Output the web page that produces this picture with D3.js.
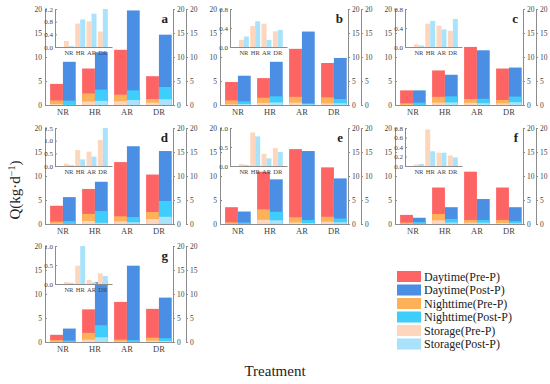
<!DOCTYPE html>
<html>
<head>
<meta charset="utf-8">
<script src="https://cdn.jsdelivr.net/npm/d3@7"></script>
<style>
body { margin: 0; background: #fff; }
svg text { font-family: "Liberation Serif", "DejaVu Serif", serif; }
</style>
</head>
<body>
<div id="chart"></div>
<script>
// values, one entry per panel (a..g), order NR, HR, AR, DR
var panels = ["a", "b", "c", "d", "e", "f", "g"];
var treatments = ["NR", "HR", "AR", "DR"];

var dayPre = [
  [4.4, 7.6, 11.5, 6.0],
  [4.8, 5.6, 11.7, 8.75],
  [3.05, 7.2, 12.1, 7.6],
  [3.8, 7.3, 12.9, 10.3],
  [3.5, 10.9, 15.6, 11.8],
  [1.9, 7.6, 10.9, 7.6],
  [1.5, 6.8, 8.35, 6.9]
];
var dayPost = [
  [9.0, 11.0, 19.7, 14.65],
  [6.1, 9.0, 15.3, 9.8],
  [3.05, 6.3, 11.4, 7.8],
  [5.6, 8.8, 16.2, 15.2],
  [2.6, 9.3, 15.2, 9.5],
  [1.3, 3.5, 5.2, 3.5],
  [2.8, 12.5, 15.9, 9.25]
];
var nightPre = [
  [0.95, 2.4, 2.15, 1.25],
  [0.95, 1.5, 1.7, 1.6],
  [0.35, 1.7, 1.25, 1.05],
  [0.5, 2.1, 1.6, 2.5],
  [0.35, 3.05, 1.4, 1.5],
  [0.3, 2.1, 0.85, 0.85],
  [0.4, 1.9, 0.5, 0.9]
];
var nightPost = [
  [0.9, 3.2, 3.05, 3.75],
  [0.76, 1.8, 0.35, 1.25],
  [0.5, 1.8, 1.3, 1.75],
  [0.6, 2.7, 1.45, 4.8],
  [0.3, 2.55, 0.85, 1.15],
  [0.4, 1.05, 0.85, 0.6],
  [0.3, 3.5, 0.4, 0.8]
];
var storagePre = [
  [0.19, 0.74, 0.81, 0.49],
  [0.15, 0.44, 0.49, 0.33],
  [0.055, 0.49, 0.45, 0.34],
  [0.09, 0.63, 0.57, 1.03],
  [0.05, 0.88, 0.32, 0.47],
  [0.03, 0.77, 0.28, 0.22],
  [0.05, 0.48, 0.11, 0.28]
];
var storagePost = [
  [0.03, 0.87, 1.05, 1.2],
  [0.22, 0.54, 0.15, 0.36],
  [0.03, 0.55, 0.37, 0.59],
  [0.03, 0.26, 0.37, 1.5],
  [0.03, 0.78, 0.2, 0.37],
  [0.04, 0.31, 0.28, 0.18],
  [0.03, 1.0, 0.04, 0.21]
];
var mainTicks = [0, 5, 10, 15, 20];
var insetMax = [1.2, 0.8, 0.8, 1.5, 1.0, 0.8, 1.0];
var insetStep = [0.4, 0.4, 0.4, 0.5, 0.5, 0.2, 0.5];

var legendLabels = ["Daytime(Pre-P)", "Daytime(Post-P)", "Nighttime(Pre-P)",
  "Nighttime(Post-P)", "Storage(Pre-P)", "Storage(Post-P)"];
var colors = ["#fd6464", "#4a8fe4", "#fdb25a", "#3fcdfb", "#fed6bd", "#a8e2fb"];

var width = 550, height = 384;
var colX = [45, 220, 395], rowY = [9, 128, 246];
var pw = 128, ph = 96;
var axisColor = "#8c8c8c";
var serif = "Liberation Serif, DejaVu Serif, serif";

var svg = d3.select("#chart").append("svg")
  .attr("width", width)
  .attr("height", height)
  .attr("font-family", serif);

function styleAxis(sel, size) {
  sel.attr("font-family", serif).attr("font-size", size);
  sel.select(".domain").attr("stroke", axisColor);
  sel.selectAll(".tick line").attr("stroke", axisColor);
  sel.selectAll(".tick text").attr("fill", "#444");
}

function drawBars(g, x, xs, y, pre, post, cPre, cPost) {
  g.append("g").selectAll("rect")
    .data(treatments)
    .enter().append("rect")
      .attr("x", function(d) { return x(d) + xs("pre"); })
      .attr("width", xs.bandwidth())
      .attr("y", function(d, j) { return y(pre[j]); })
      .attr("height", function(d, j) { return y(0) - y(pre[j]); })
      .attr("fill", cPre);
  g.append("g").selectAll("rect")
    .data(treatments)
    .enter().append("rect")
      .attr("x", function(d) { return x(d) + xs("post"); })
      .attr("width", xs.bandwidth())
      .attr("y", function(d, j) { return y(post[j]); })
      .attr("height", function(d, j) { return y(0) - y(post[j]); })
      .attr("fill", cPost);
}

panels.forEach(function(p, i) {
  var x0 = colX[i % 3], y0 = rowY[Math.floor(i / 3)];
  var g = svg.append("g").attr("transform", "translate(" + x0 + "," + y0 + ")");

  var x = d3.scaleBand().domain(treatments).range([0, pw])
    .paddingInner(0.2).paddingOuter(0.1).align(0.8);
  var xs = d3.scaleBand().domain(["pre", "post"]).range([0, x.bandwidth()]);
  var y = d3.scaleLinear().domain([0, 20]).range([ph, 0]);

  // overlapping layers: daytime, nighttime, storage
  drawBars(g, x, xs, y, dayPre[i], dayPost[i], colors[0], colors[1]);
  drawBars(g, x, xs, y, nightPre[i], nightPost[i], colors[2], colors[3]);
  drawBars(g, x, xs, y, storagePre[i], storagePost[i], colors[4], colors[5]);

  g.append("g")
    .call(d3.axisLeft(y).tickValues(mainTicks).tickSizeInner(-2).tickSizeOuter(0).tickPadding(3))
    .call(styleAxis, 7.5);
  g.append("g")
    .attr("transform", "translate(" + pw + ",0)")
    .call(d3.axisRight(y).tickValues(mainTicks).tickSize(2).tickPadding(2))
    .call(styleAxis, 7.5);
  g.append("g")
    .attr("transform", "translate(" + (pw + 13) + ",0)")
    .call(d3.axisRight(y).tickValues(mainTicks).tickSize(2).tickPadding(2))
    .call(styleAxis, 7.5);
  g.append("g")
    .attr("transform", "translate(0," + ph + ")")
    .call(d3.axisBottom(x).tickSize(0).tickPadding(4))
    .call(styleAxis, 8.5);

  // inset: storage
  var ig = g.append("g").attr("transform", "translate(10,0)");
  var ix = d3.scaleBand().domain(treatments).range([0, 57])
    .paddingInner(0.12).paddingOuter(0.58).align(0.68);
  var ixs = d3.scaleBand().domain(["pre", "post"]).range([0, ix.bandwidth()]);
  var iy = d3.scaleLinear().domain([0, insetMax[i]]).range([38, 0]);
  drawBars(ig, ix, ixs, iy, storagePre[i], storagePost[i], colors[4], colors[5]);
  ig.append("g")
    .call(d3.axisLeft(iy).tickValues(d3.range(0, insetMax[i] + 1e-6, insetStep[i]))
      .tickFormat(d3.format(".1f")).tickSizeInner(-2).tickSizeOuter(0).tickPadding(2))
    .call(styleAxis, 7);
  ig.append("g")
    .attr("transform", "translate(0,38)")
    .call(d3.axisBottom(ix).tickSize(0).tickPadding(3))
    .call(styleAxis, 6.5);

  g.append("text")
    .attr("x", pw - 5)
    .attr("y", 14)
    .attr("text-anchor", "end")
    .attr("font-size", 13)
    .attr("font-weight", "bold")
    .attr("fill", "#222")
    .text(p);
});

// axis titles
var yl = svg.append("text")
  .attr("transform", "translate(20,190) rotate(-90)")
  .attr("text-anchor", "middle")
  .attr("font-size", 15)
  .attr("fill", "#222");
yl.append("tspan").text("Q(kg\u00b7d");
yl.append("tspan").attr("dy", -5).attr("font-size", 10).text("\u22121");
yl.append("tspan").attr("dy", 5).text(")");

svg.append("text")
  .attr("x", 275)
  .attr("y", 376)
  .attr("text-anchor", "middle")
  .attr("font-size", 15)
  .attr("fill", "#222")
  .text("Treatment");

// legend
var legend = svg.append("g").attr("transform", "translate(397,271)");
var item = legend.selectAll("g")
  .data(legendLabels)
  .enter().append("g")
    .attr("transform", function(d, j) { return "translate(0," + (j * 13.5) + ")"; });
item.append("rect")
  .attr("width", 24)
  .attr("height", 11)
  .attr("fill", function(d, j) { return colors[j]; });
item.append("text")
  .attr("x", 27)
  .attr("y", 9.5)
  .attr("font-size", 12)
  .attr("fill", "#222")
  .text(function(d) { return d; });
</script>
</body>
</html>
